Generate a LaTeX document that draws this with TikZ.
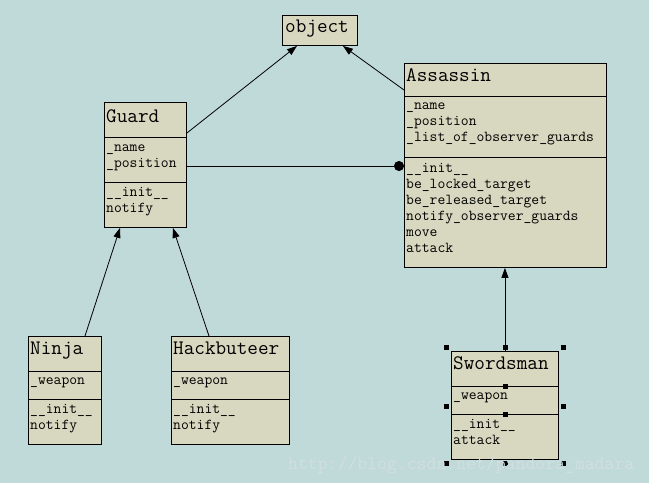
\documentclass[tikz,border=0pt]{standalone}
\usepackage{fontspec}
\usetikzlibrary{arrows.meta,calc}

\definecolor{bgblue}{RGB}{192,217,217}
\definecolor{boxfill}{RGB}{216,216,192}
\definecolor{wmark}{RGB}{210,223,223}

\tikzset{
  classbox/.style={draw=black, fill=boxfill, line width=0.9pt, inner sep=0pt, anchor=north west},
  cname/.style={anchor=base west, inner sep=0pt, font=\ttfamily\fontsize{20.6}{20.6}\selectfont},
  member/.style={anchor=base west, inner sep=0pt, font=\ttfamily\fontsize{15.2}{15.2}\selectfont},
  divider/.style={line width=0.9pt},
  inherit/.style={-{Triangle[length=10pt,width=7pt]}, line width=0.8pt},
  assoc/.style={-{Circle[length=10pt]}, line width=0.8pt},
  handle/.style={fill=black, minimum size=5pt, inner sep=0pt},
}

\begin{document}
\begin{tikzpicture}[x=1pt,y=-1pt]
  % Bakgrunn
  \fill[bgblue] (0,0) rectangle (649,483);
  \useasboundingbox (0,0) rectangle (649,483);

  % object
  \node[classbox, minimum width=75pt, minimum height=30pt] (object) at (282,15) {};
  \node[cname] (objectname) at (285,32) {object};

  % Guard
  \node[classbox, minimum width=82pt, minimum height=125pt] (guard) at (104,102) {};
  \draw[divider] (104,137) -- (186,137);
  \draw[divider] (104,182) -- (186,182);
  \node[cname] (guardname) at (106,122) {Guard};
  \node[member] (guardattr1) at (106,151) {\_name};
  \node[member] (guardattr2) at (106,167) {\_position};
  \node[member] (guardop1) at (106,196) {\_\_init\_\_};
  \node[member] (guardop2) at (106,212) {notify};

  % Assassin
  \node[classbox, minimum width=202pt, minimum height=204pt] (assassin) at (404,63) {};
  \draw[divider] (404,96) -- (606,96);
  \draw[divider] (404,157) -- (606,157);
  \node[cname] (assassinname) at (406,81) {Assassin};
  \node[member] (assassinattr1) at (406,109) {\_name};
  \node[member] (assassinattr2) at (406,125) {\_position};
  \node[member] (assassinattr3) at (406,141) {\_list\_of\_observer\_guards};
  \node[member] (assassinop1) at (406,172) {\_\_init\_\_};
  \node[member] (assassinop2) at (406,188) {be\_locked\_target};
  \node[member] (assassinop3) at (406,204) {be\_released\_target};
  \node[member] (assassinop4) at (406,220) {notify\_observer\_guards};
  \node[member] (assassinop5) at (406,236) {move};
  \node[member] (assassinop6) at (406,252) {attack};

  % Ninja
  \node[classbox, minimum width=73pt, minimum height=108pt] (ninja) at (28,336) {};
  \draw[divider] (28,371) -- (101,371);
  \draw[divider] (28,399) -- (101,399);
  \node[cname] (ninjaname) at (30,354) {Ninja};
  \node[member] (ninjaattr1) at (30,384) {\_weapon};
  \node[member] (ninjaop1) at (30,413) {\_\_init\_\_};
  \node[member] (ninjaop2) at (30,429) {notify};

  % Hackbuteer
  \node[classbox, minimum width=118pt, minimum height=108pt] (hackbuteer) at (171,336) {};
  \draw[divider] (171,371) -- (289,371);
  \draw[divider] (171,399) -- (289,399);
  \node[cname] (hackbuteername) at (173,354) {Hackbuteer};
  \node[member] (hackbuteerattr1) at (173,384) {\_weapon};
  \node[member] (hackbuteerop1) at (173,413) {\_\_init\_\_};
  \node[member] (hackbuteerop2) at (173,429) {notify};

  % Swordsman
  \node[classbox, minimum width=107pt, minimum height=108pt] (swordsman) at (451,351) {};
  \draw[divider] (451,386) -- (558,386);
  \draw[divider] (451,414) -- (558,414);
  \node[cname] (swordsmanname) at (453,369) {Swordsman};
  \node[member] (swordsmanattr1) at (453,399) {\_weapon};
  \node[member] (swordsmanop1) at (453,428) {\_\_init\_\_};
  \node[member] (swordsmanop2) at (453,444) {attack};

  % Arv
  \draw[inherit] ($(guard.north east)+(0,31)$) -- ($(object.south west)+(15,0)$);
  \draw[inherit] ($(assassin.north west)+(0,27)$) -- ($(object.south east)+(-15,0)$);
  \draw[inherit] ($(ninja.north west)+(57,0)$) -- ($(guard.south west)+(16,0)$);
  \draw[inherit] ($(hackbuteer.north west)+(38,0)$) -- ($(guard.south east)+(-14,0)$);
  \draw[inherit] (swordsman.north) -- (assassin.south -| swordsman.north);

  % Assosiasjon
  \draw[assoc] ($(guard.north east)+(0,64)$) -- ($(assassin.north west)+(0,103)$);

  % Markering rundt Swordsman
  \foreach \hx/\hy [count=\i] in {446/347,505/347,563/347,446/406,563/406,446/463,505/463,563/463,505/386,505/414}
    \node[handle] (handle\i) at (\hx,\hy) {};

  % Vannmerke
  \node[anchor=base west, inner sep=0pt, text=wmark, font=\ttfamily\fontsize{19.2}{19.2}\selectfont] (watermark) at (288,469) {http://blog.csdn.net/pandora\_madara};
\end{tikzpicture}
\end{document}
